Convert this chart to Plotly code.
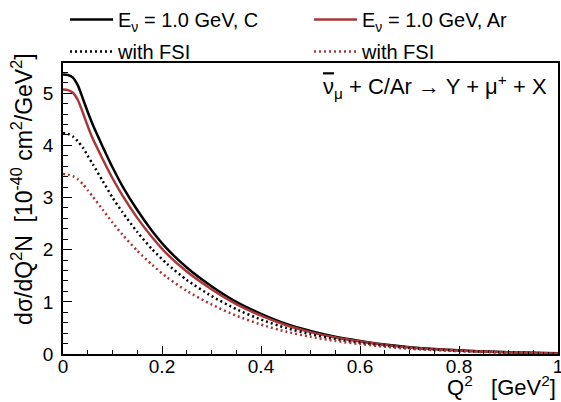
import plotly.graph_objects as go

q2 = [0.0, 0.01, 0.02, 0.03, 0.04, 0.05, 0.06, 0.08, 0.10, 0.12, 0.15, 0.18, 0.21, 0.25,
      0.30, 0.35, 0.40, 0.45, 0.50, 0.55, 0.60, 0.65, 0.70, 0.75, 0.80, 0.85, 0.90, 0.95, 1.00]

c_nofsi = [5.36, 5.35, 5.30, 5.15, 4.90, 4.64, 4.40, 3.98, 3.58, 3.22, 2.76, 2.36, 2.02, 1.66,
           1.30, 1.00, 0.77, 0.58, 0.44, 0.33, 0.25, 0.18, 0.13, 0.095, 0.07, 0.05, 0.035, 0.022, 0.012]
ar_nofsi = [5.07, 5.06, 5.01, 4.87, 4.63, 4.37, 4.13, 3.74, 3.37, 3.04, 2.61, 2.24, 1.92, 1.58,
            1.24, 0.955, 0.735, 0.555, 0.42, 0.315, 0.24, 0.175, 0.125, 0.092, 0.068, 0.048, 0.033, 0.021, 0.011]
c_fsi = [4.24, 4.22, 4.17, 4.08, 3.96, 3.80, 3.64, 3.32, 3.00, 2.72, 2.34, 2.01, 1.73, 1.42,
         1.11, 0.86, 0.66, 0.50, 0.38, 0.285, 0.215, 0.16, 0.115, 0.085, 0.062, 0.044, 0.03, 0.019, 0.01]
ar_fsi = [3.45, 3.44, 3.41, 3.35, 3.26, 3.14, 3.02, 2.77, 2.52, 2.29, 1.98, 1.71, 1.47, 1.21,
          0.95, 0.735, 0.565, 0.43, 0.33, 0.25, 0.19, 0.14, 0.10, 0.074, 0.054, 0.039, 0.027, 0.017, 0.009]

labels = ["E<sub>ν</sub> = 1.0 GeV, C", "E<sub>ν</sub> = 1.0 GeV, Ar", "with FSI", "with FSI"]

BLACK = "#000000"
RED = "#a83838"
FONT = "Liberation Sans, Arial, sans-serif"

fig = go.Figure()
series = [(c_nofsi, BLACK, "solid", "legend", "g1"), (ar_nofsi, RED, "solid", "legend2", "g2"),
          (c_fsi, BLACK, "2px,3px", "legend", "g3"), (ar_fsi, RED, "2px,3px", "legend2", "g4")]
for (ys, col, dash, leg, grp), lab in zip(series, labels):
    fig.add_trace(go.Scatter(x=q2, y=ys, mode="lines", name=lab, legend=leg, legendgroup=grp,
                             line=dict(color=col, width=2.5, dash=dash, shape="spline", smoothing=0.6)))

leg_common = dict(xref="container", yref="container", xanchor="left", yanchor="top",
                  itemwidth=43, font=dict(size=20), bgcolor="rgba(0,0,0,0)",
                  tracegroupgap=3, orientation="v")

fig.update_layout(
    width=561, height=402,
    margin=dict(l=63, r=3, t=63, b=48, autoexpand=False),
    paper_bgcolor="white", plot_bgcolor="white",
    font=dict(family=FONT, size=19, color="black"),
    showlegend=True,
    legend=dict(x=65 / 561, y=1.019, **leg_common),
    legend2=dict(x=309 / 561, y=1.019, **leg_common),
)
fig.update_xaxes(range=[0, 1], showgrid=False, zeroline=False, showline=True, linecolor="black",
                 linewidth=1.5, mirror=True, ticks="inside", ticklen=8, tickwidth=1, tickcolor="black",
                 tickvals=[0, 0.2, 0.4, 0.6, 0.8, 1], ticktext=["0", "0.2", "0.4", "0.6", "0.8", "1"],
                 minor=dict(dtick=0.05, tick0=0, ticks="inside", ticklen=4, tickcolor="black"),
                 tickfont=dict(size=19), ticklabeloverflow="allow", ticklabelstandoff=-6)
fig.update_yaxes(range=[0, 5.58], showgrid=False, zeroline=False, showline=True, linecolor="black",
                 linewidth=1.5, mirror=True, ticks="inside", ticklen=9, tickwidth=1, tickcolor="black",
                 tickvals=[0, 1, 2, 3, 4, 5], minor=dict(dtick=0.2, tick0=0, ticks="inside", ticklen=5,
                                                        tickcolor="black"),
                 tickfont=dict(size=19), ticklabeloverflow="allow", ticklabelstandoff=4)

fig.add_annotation(xref="paper", yref="paper", x=0.982, y=0.918, xanchor="right", yanchor="middle",
                   text="<span style='text-decoration:overline'>ν</span><sub>μ</sub> + C/Ar → Y + μ<sup>+</sup> + X",
                   showarrow=False, font=dict(size=22))
fig.add_annotation(xref="paper", yref="paper", x=1.0, y=-0.165, xanchor="right", yanchor="bottom",
                   text="Q<sup>2</sup>   [GeV<sup>2</sup>]", showarrow=False, font=dict(size=22))
fig.add_annotation(xref="paper", yref="paper", x=(22 - 63) / 495, y=0.564, xanchor="center", yanchor="middle",
                   textangle=-90,
                   text="dσ/dQ<sup>2</sup>N  [10<sup>-40</sup> cm<sup>2</sup>/GeV<sup>2</sup>]",
                   showarrow=False, font=dict(size=23))

fig.write_html("out.html", config={"displayModeBar": False},
               post_script="document.body.style.margin='0';document.body.style.overflow='hidden';")
